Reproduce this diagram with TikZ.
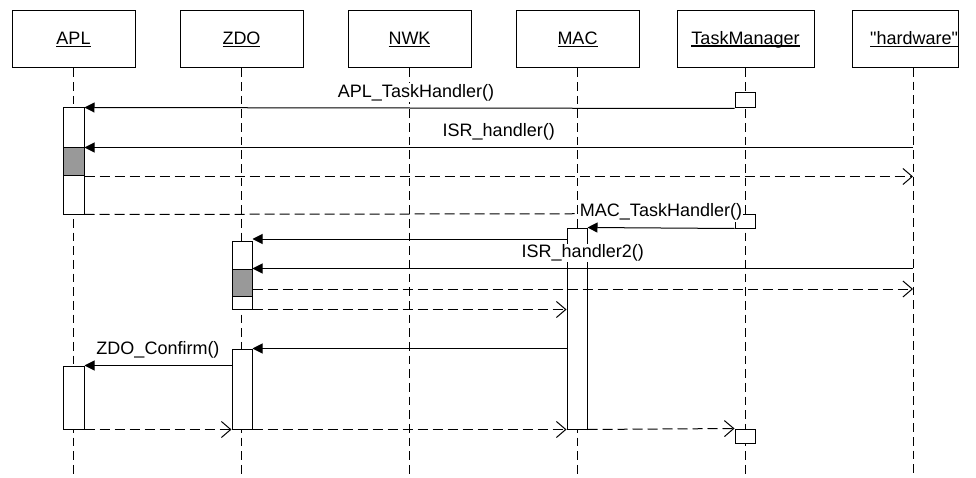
\documentclass[tikz,border=0pt]{standalone}
\usepackage{fontspec}
\setmainfont{Liberation Sans}[Ligatures=TeXOff]
\usetikzlibrary{arrows.meta,fit}
\definecolor{actgray}{RGB}{153,153,153}
\newcommand\ulx[1]{\setbox0\hbox{#1}\rlap{\rule[-1.8pt]{\wd0}{0.8pt}}\box0}
\begin{document}
\begin{tikzpicture}[x=0.75pt,y=-0.75pt,
  font=\fontsize{13.5}{16}\selectfont,
  line width=0.75pt,
  head/.style={draw, minimum height=42.75pt, inner sep=0pt},
  act/.style={draw, fill=white, inner sep=0pt},
  actg/.style={draw, fill=actgray, inner sep=0pt},
  life/.style={dash pattern=on 6.5pt off 3.75pt},
  call/.style={-{Triangle[length=7.5pt,width=7.5pt]}},
  ret/.style={dash pattern=on 7.5pt off 3.75pt, -{Straight Barb[length=7pt,width=12pt]}},
  lbl/.style={anchor=base, inner sep=0.6pt, fill=white, yshift=8.25pt}]
\useasboundingbox (0,0) rectangle (976,478);
% heads
\node[head, minimum width=92.25pt] (apl) at (73.5,39.5) {\ulx{APL}};
\node[head, minimum width=92.25pt] (zdo) at (241.5,39.5) {\ulx{ZDO}};
\node[head, minimum width=92.25pt] (nwk) at (409.5,39.5) {\ulx{NWK}};
\node[head, minimum width=92.25pt] (mac) at (577.5,39.5) {\ulx{MAC}};
\node[head, minimum width=102.75pt] (tm) at (745.5,39.5) {\ulx{TaskManager}};
\node[head, text width=79.5pt, align=right] (hw) at (905,39.5) {\ulx{"hardware"}};
\coordinate (hwl) at (913,68);
% lifelines
\foreach \n in {apl,zdo,nwk,mac,tm}
  \draw[life] (\n.south) -- (\n.south |- 0,478);
\draw[life] (hwl) -- (913,478);
% activation boxes
\node[act, fit={(735,93)(755,108)}] (tm1) {};
\node[act, fit={(63,108)(84,214)}] (apl1) {};
\node[actg, fit={(63,148)(84,176)}] (aplg) {};
\node[act, fit={(735,214)(755,228)}] (tm2) {};
\node[act, fit={(567,228)(587,429)}] (mac1) {};
\node[act, fit={(232,241)(252,309)}] (zdo1) {};
\node[actg, fit={(232,269)(252,296)}] (zdog) {};
\node[act, fit={(232,349)(252,429)}] (zdo2) {};
\node[act, fit={(63,366)(84,429)}] (apl2) {};
\node[act, fit={(735,429)(755,443)}] (tm3) {};
% messages
\draw[call] (tm1.south west) -- (apl1.north east);
\draw[call] (hwl |- aplg.north east) -- (aplg.north east);
\draw[ret] (aplg.south east) -- (hwl |- aplg.south east);
\draw[ret] (apl1.south east) -- (tm2.north west);
\draw[call] (tm2.south west) -- (mac1.north east);
\draw[call] (mac1.west |- 0,239) -- (zdo1.east |- 0,239);
\draw[call] (hwl |- zdog.north east) -- (zdog.north east);
\draw[ret] (zdog.east |- 0,289) -- (hwl |- 0,289);
\draw[ret] (zdo1.south east) -- (mac1.west |- zdo1.south east);
\draw[call] (mac1.west |- zdo2.north east) -- (zdo2.north east);
\draw[call] (zdo2.west |- apl2.north east) -- (apl2.north east);
\draw[ret] (apl2.south east) -- (zdo2.south west);
\draw[ret] (zdo2.south east) -- (mac1.south west);
\draw[ret] (mac1.south east) -- (tm3.north west);
% labels
\path (tm1.south west) -- (apl1.north east) node[lbl, pos=0.49] {APL\_TaskHandler()};
\path (hwl |- aplg.north east) -- (aplg.north east) node[lbl, midway] {ISR\_handler()};
\path (tm2.south west) -- (mac1.north east) node[lbl, midway] {MAC\_TaskHandler()};
\path (hwl |- zdog.north east) -- (zdog.north east) node[lbl, midway] {ISR\_handler2()};
\path (zdo2.west |- apl2.north east) -- (apl2.north east) node[lbl, midway] {ZDO\_Confirm()};
\end{tikzpicture}
\end{document}
